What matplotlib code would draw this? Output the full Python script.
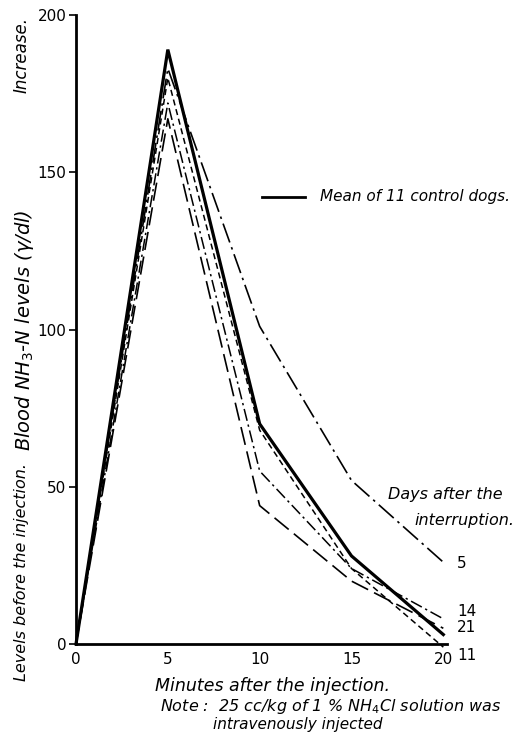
import matplotlib
matplotlib.use("Agg")
import matplotlib.pyplot as plt
from matplotlib.lines import Line2D

minutes = [0, 5, 10, 15, 20]
mean_control = [0, 189, 70, 28, 3]
day5 = [0, 183, 101, 52, 26]
day11 = [0, 180, 68, 24, -1]
day14 = [0, 172, 55, 24, 8]
day21 = [0, 167, 44, 20, 5]
x_ticks = [0, 5, 10, 15, 20]
y_ticks = [0, 50, 100, 150, 200]

W, H = 521, 742
fig = plt.figure(figsize=(W / 100, H / 100), dpi=100)
fig.patch.set_facecolor("white")

def fx(px):
    return px / W

def fy(py):
    return 1 - py / H

ax = fig.add_axes([fx(76), fy(644), fx(447) - fx(76), fy(15) - fy(644)])
ax.set_xlim(0, 20.2)
ax.set_ylim(0, 200)

k = "black"
ax.plot(minutes, mean_control, color=k, lw=2.3, solid_joinstyle="miter", clip_on=False)
ax.plot(minutes, day5, color=k, lw=1.2, dashes=(12, 3, 1.5, 3), clip_on=False)
ax.plot(minutes, day11, color=k, lw=1.1, dashes=(4, 2.5), clip_on=False)
ax.plot(minutes, day14, color=k, lw=1.1, dashes=(8, 2.5, 1.5, 2.5), clip_on=False)
ax.plot(minutes, day21, color=k, lw=1.2, dashes=(11, 4), clip_on=False)

for s in ["top", "right"]:
    ax.spines[s].set_visible(False)
ax.spines["left"].set_linewidth(2.0)
ax.spines["bottom"].set_linewidth(2.0)
ax.set_xticks(x_ticks)
ax.set_yticks(y_ticks)
ax.tick_params(axis="y", direction="out", length=5, width=1.2, labelsize=11, pad=2)
ax.tick_params(axis="x", direction="out", length=0, labelsize=11, pad=6)

ital = dict(style="italic", family="DejaVu Sans", color=k)

fig.text(fx(22), fy(55), "Increase.", rotation=90, ha="center", va="center", fontsize=12, **ital)
fig.text(fx(25), fy(330), r"Blood NH$_3$-N levels ($\gamma$/dl)", rotation=90,
         ha="center", va="center", fontsize=14, **ital)
fig.text(fx(22), fy(572), "Levels before the injection.", rotation=90,
         ha="center", va="center", fontsize=11.5, **ital)

fig.add_artist(Line2D([fx(262), fx(305)], [fy(197), fy(197)], color=k, lw=2.0))
fig.text(fx(320), fy(197), "Mean of 11 control dogs.", ha="left", va="center", fontsize=11, **ital)

fig.text(fx(388), fy(495), "Days after the", ha="left", va="center", fontsize=11.5, **ital)
fig.text(fx(414), fy(520), "interruption.", ha="left", va="center", fontsize=11.5, **ital)

for lab, py in [("5", 563), ("14", 612), ("21", 628), ("11", 655)]:
    fig.text(fx(457), fy(py), lab, ha="left", va="center", fontsize=11, color=k)

fig.text(fx(155), fy(686), "Minutes after the injection.", ha="left", va="center", fontsize=12.5, **ital)
fig.text(fx(160), fy(706), r"Note :  25 cc/kg of 1 % NH$_4$Cl solution was",
         ha="left", va="center", fontsize=11.5, **ital)
fig.text(fx(213), fy(724), "intravenously injected", ha="left", va="center", fontsize=11, **ital)

fig.savefig("out.png", dpi=100, facecolor="white")
